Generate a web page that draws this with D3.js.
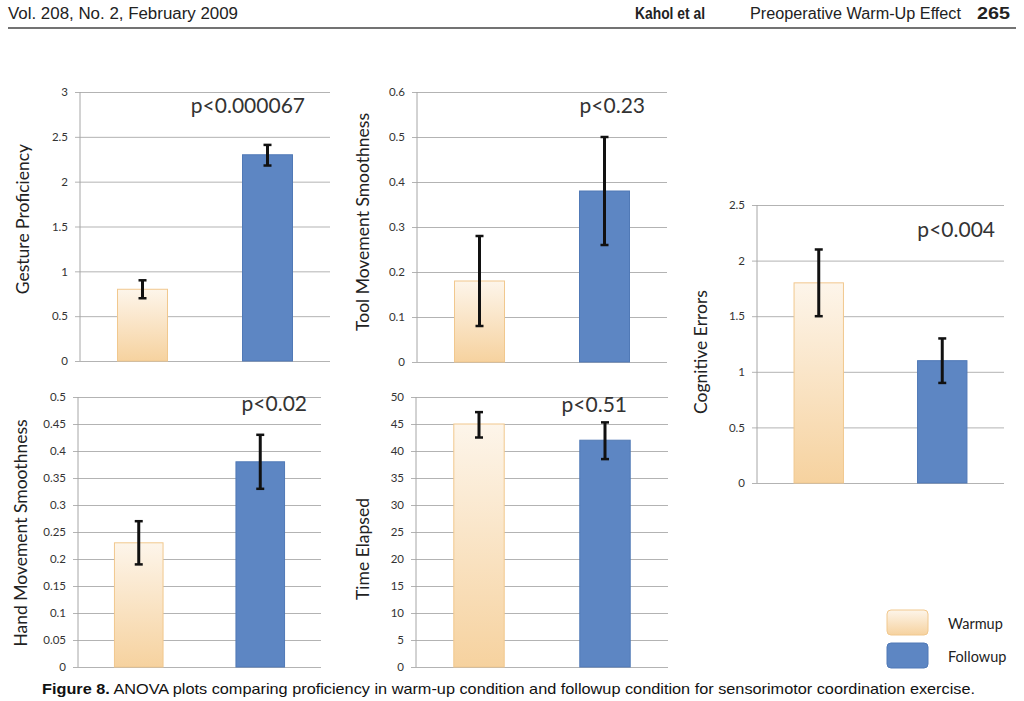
<!DOCTYPE html>
<html><head><meta charset="utf-8">
<script src="https://cdn.jsdelivr.net/npm/d3@7"></script>
<style>
html,body{margin:0;padding:0;background:#fff;}
svg{display:block;}
</style></head>
<body>
<svg id="chart" width="1024" height="701"></svg>
<script>
// ---------------- data ----------------
const groups = ["Warmup", "Followup"];

const gestureValues = [0.8, 2.3];
const gestureErrLow = [0.7, 2.18];
const gestureErrHigh = [0.9, 2.41];
const gestureTicks = [0, 0.5, 1, 1.5, 2, 2.5, 3];
const gestureP = "p<0.000067";

const toolValues = [0.18, 0.38];
const toolErrLow = [0.08, 0.26];
const toolErrHigh = [0.28, 0.50];
const toolTicks = [0, 0.1, 0.2, 0.3, 0.4, 0.5, 0.6];
const toolP = "p<0.23";

const cognitiveValues = [1.8, 1.1];
const cognitiveErrLow = [1.5, 0.9];
const cognitiveErrHigh = [2.1, 1.3];
const cognitiveTicks = [0, 0.5, 1, 1.5, 2, 2.5];
const cognitiveP = "p<0.004";

const handValues = [0.23, 0.38];
const handErrLow = [0.19, 0.33];
const handErrHigh = [0.27, 0.43];
const handTicks = [0, 0.05, 0.1, 0.15, 0.2, 0.25, 0.3, 0.35, 0.4, 0.45, 0.5];
const handP = "p<0.02";

const timeValues = [45, 42];
const timeErrLow = [42.5, 38.5];
const timeErrHigh = [47.2, 45.3];
const timeTicks = [0, 5, 10, 15, 20, 25, 30, 35, 40, 45, 50];
const timeP = "p<0.51";

// ---------------- layout ----------------
const panels = [
  {label: "Gesture Proficiency", values: gestureValues, lo: gestureErrLow, hi: gestureErrHigh, ticks: gestureTicks, p: gestureP,
   x0: 80, x1: 330, yTop: 92, yBot: 361, labX: 22, labY: 219, pX: 305, pY: 113},
  {label: "Tool Movement Smoothness", values: toolValues, lo: toolErrLow, hi: toolErrHigh, ticks: toolTicks, p: toolP,
   x0: 417, x1: 667, yTop: 92, yBot: 362, labX: 362, labY: 222, pX: 645, pY: 113},
  {label: "Cognitive Errors", values: cognitiveValues, lo: cognitiveErrLow, hi: cognitiveErrHigh, ticks: cognitiveTicks, p: cognitiveP,
   x0: 757, x1: 1004, yTop: 205, yBot: 483, labX: 700, labY: 352, pX: 995, pY: 237},
  {label: "Hand Movement Smoothness", values: handValues, lo: handErrLow, hi: handErrHigh, ticks: handTicks, p: handP,
   x0: 78, x1: 321, yTop: 397, yBot: 667, labX: 20, labY: 533, pX: 307, pY: 411},
  {label: "Time Elapsed", values: timeValues, lo: timeErrLow, hi: timeErrHigh, ticks: timeTicks, p: timeP,
   x0: 416, x1: 668, yTop: 397, yBot: 667, labX: 362, labY: 549, pX: 627, pY: 412}
];

const svg = d3.select("#chart");
const defs = svg.append("defs");
const grad = defs.append("linearGradient").attr("id", "warmGrad")
  .attr("x1", 0).attr("y1", 0).attr("x2", 0).attr("y2", 1);
grad.append("stop").attr("offset", "0%").attr("stop-color", "#fdf5ea");
grad.append("stop").attr("offset", "100%").attr("stop-color", "#f6d29f");

const fillColor = d3.scaleOrdinal().domain(groups).range(["url(#warmGrad)", "#5d86c3"]);
const strokeColor = d3.scaleOrdinal().domain(groups).range(["#f1c88e", "#5079b6"]);

const uiFont = "Lato, 'Open Sans', sans-serif";
const pubFont = "'Liberation Sans Narrow', 'Liberation Sans', sans-serif";

// ---------------- header ----------------
function fitText(x, y, txt, len, bold, anchor) {
  return svg.append("text").attr("x", x).attr("y", y).attr("font-family", pubFont).attr("font-size", 16)
    .attr("font-weight", bold ? "bold" : "normal").attr("fill", "#222")
    .attr("textLength", len).attr("lengthAdjust", "spacingAndGlyphs").text(txt);
}
fitText(8, 19, "Vol. 208, No. 2, February 2009", 230, false);
fitText(635, 19, "Kahol et al", 70, true);
fitText(750, 19, "Preoperative Warm-Up Effect", 211, false);
fitText(977, 19, "265", 33, true);
svg.append("line").attr("x1", 8).attr("x2", 1016).attr("y1", 28).attr("y2", 28)
  .attr("stroke", "#444").attr("stroke-width", 1.5);

// ---------------- panels ----------------
panels.forEach(pn => {
  const g = svg.append("g");
  const y = d3.scaleLinear()
    .domain([pn.ticks[0], pn.ticks[pn.ticks.length - 1]])
    .range([pn.yBot, pn.yTop]);
  const x = d3.scaleBand().domain(groups).range([pn.x0, pn.x1])
    .paddingInner(0.6).paddingOuter(0.3);

  const axis = d3.axisLeft(y).tickValues(pn.ticks)
    .tickSize(-(pn.x1 - pn.x0)).tickPadding(10)
    .tickFormat(d => String(d));
  const ag = g.append("g").attr("transform", `translate(${pn.x0},0)`).call(axis);
  ag.select(".domain").remove();
  ag.selectAll(".tick line").attr("stroke", "#b3b3b3").attr("stroke-width", 1)
    .attr("x1", -5);
  ag.selectAll(".tick text").attr("font-family", uiFont).attr("font-size", 11.5)
    .attr("fill", "#333").attr("x", -12);
  g.append("line").attr("x1", pn.x0).attr("x2", pn.x0)
    .attr("y1", y.range()[1]).attr("y2", y.range()[0])
    .attr("stroke", "#a6a6a6").attr("stroke-width", 1);

  const rows = groups.map((k, i) => ({k, v: pn.values[i], lo: pn.lo[i], hi: pn.hi[i]}));

  g.selectAll("rect.bar").data(rows).enter().append("rect")
    .attr("class", "bar")
    .attr("x", d => x(d.k)).attr("width", x.bandwidth())
    .attr("y", d => y(d.v)).attr("height", d => y(0) - y(d.v))
    .attr("fill", d => fillColor(d.k)).attr("stroke", d => strokeColor(d.k)).attr("stroke-width", 1);

  const eb = g.selectAll("g.err").data(rows).enter().append("g").attr("class", "err");
  const cx = d => x(d.k) + x.bandwidth() / 2;
  eb.append("line").attr("x1", cx).attr("x2", cx).attr("y1", d => y(d.lo)).attr("y2", d => y(d.hi))
    .attr("stroke", "#111").attr("stroke-width", 3);
  eb.append("line").attr("x1", d => cx(d) - 4).attr("x2", d => cx(d) + 4)
    .attr("y1", d => y(d.hi)).attr("y2", d => y(d.hi)).attr("stroke", "#111").attr("stroke-width", 2.5);
  eb.append("line").attr("x1", d => cx(d) - 4).attr("x2", d => cx(d) + 4)
    .attr("y1", d => y(d.lo)).attr("y2", d => y(d.lo)).attr("stroke", "#111").attr("stroke-width", 2.5);

  g.append("text").attr("x", pn.pX).attr("y", pn.pY).attr("text-anchor", "end")
    .attr("font-family", uiFont).attr("font-size", 21).attr("fill", "#333").text(pn.p);

  g.append("text").attr("transform", `translate(${pn.labX},${pn.labY}) rotate(-90)`)
    .attr("text-anchor", "middle").attr("dominant-baseline", "central")
    .attr("font-family", uiFont).attr("font-size", 17.5).attr("fill", "#222").text(pn.label);
});

// ---------------- legend ----------------
const legend = svg.append("g");
const legendRows = [{k: groups[0], y: 610}, {k: groups[1], y: 643}];
legend.selectAll("rect").data(legendRows).enter().append("rect")
  .attr("x", 887).attr("y", d => d.y).attr("width", 41).attr("height", 25).attr("rx", 4)
  .attr("fill", d => fillColor(d.k)).attr("stroke", d => strokeColor(d.k));
legend.selectAll("text").data(legendRows).enter().append("text")
  .attr("x", 948).attr("y", d => d.y + 13).attr("dominant-baseline", "central")
  .attr("font-family", uiFont).attr("font-size", 14.5).attr("fill", "#222").text(d => d.k);

// ---------------- caption ----------------
const cap = svg.append("text").attr("x", 42).attr("y", 694).attr("font-family", pubFont)
  .attr("font-size", 15).attr("fill", "#111")
  .attr("textLength", 933).attr("lengthAdjust", "spacingAndGlyphs");
cap.append("tspan").attr("font-weight", "bold").text("Figure 8.");
cap.append("tspan").text(" ANOVA plots comparing proficiency in warm-up condition and followup condition for sensorimotor coordination exercise.");
</script>
</body></html>
